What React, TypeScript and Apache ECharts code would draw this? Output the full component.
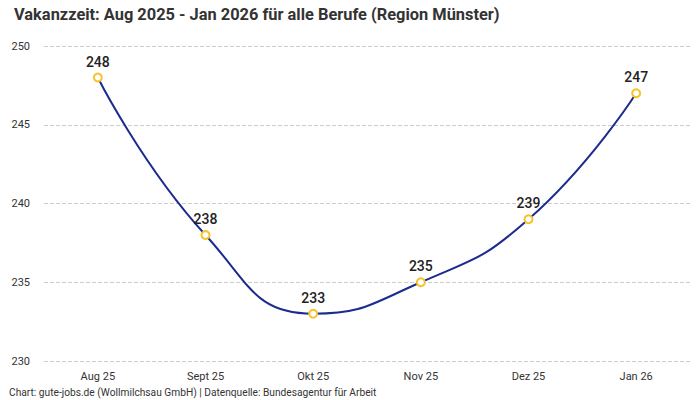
import React from 'react';
import * as echarts from 'echarts';

const months = ['Aug 25', 'Sept 25', 'Okt 25', 'Nov 25', 'Dez 25', 'Jan 26'];
const vacancyDays = [248, 238, 233, 235, 239, 247];

const FONT = 'Roboto, "Noto Sans", sans-serif';

const App: React.FC = () => {
  const chartRef = React.useRef<HTMLDivElement>(null);

  React.useEffect(() => {
    if (!chartRef.current) return;
    document.body.style.margin = '0';
    const chart = echarts.init(chartRef.current, undefined, { renderer: 'svg' });

    chart.setOption({
      animation: false,
      textStyle: { fontFamily: FONT },
      title: {
        text: 'Vakanzzeit: Aug 2025 - Jan 2026 für alle Berufe (Region Münster)',
        left: 9,
        top: 1,
        textStyle: { fontSize: 16.4, fontWeight: 'bold', color: '#333', fontFamily: FONT },
      },
      graphic: [
        {
          type: 'text',
          left: 9,
          bottom: 3,
          style: {
            text: 'Chart: gute-jobs.de (Wollmilchsau GmbH) | Datenquelle: Bundesagentur für Arbeit',
            fontSize: 10.2,
            fill: '#333',
            fontFamily: FONT,
          },
        },
      ],
      grid: { left: 44, right: 10, top: 46, bottom: 39, outerBoundsMode: 'none' },
      xAxis: {
        type: 'category',
        data: months,
        axisLine: { show: false },
        axisTick: { show: false },
        axisLabel: { color: '#333', fontSize: 11, margin: 10 },
      },
      yAxis: {
        type: 'value',
        min: 230,
        max: 250,
        interval: 5,
        axisLabel: { color: '#333', fontSize: 11, margin: 14 },
        splitLine: { lineStyle: { type: 'dashed', color: '#ccc' } },
      },
      series: [
        {
          type: 'line',
          data: vacancyDays,
          smooth: 0.5,
          symbol: 'circle',
          symbolSize: 8,
          lineStyle: { color: '#1b2b8f', width: 2 },
          itemStyle: { color: '#fff', borderColor: '#f7c22a', borderWidth: 2 },
          label: {
            show: true,
            position: 'top',
            distance: 4,
            fontSize: 14,
            fontWeight: 500,
            color: '#222',
          },
        },
      ],
    });

    return () => {
      chart.dispose();
    };
  }, []);

  return <div ref={chartRef} style={{ width: 700, height: 400 }} />;
};

export default App;
